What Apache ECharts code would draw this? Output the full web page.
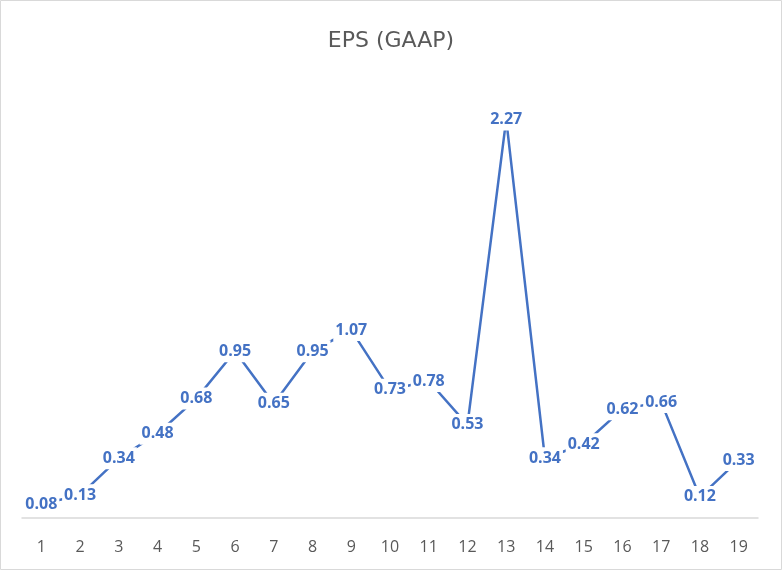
<!DOCTYPE html>
<html><head><meta charset="utf-8">
<script src="https://cdn.jsdelivr.net/npm/echarts@6/dist/echarts.min.js"></script>
<style>html,body{margin:0;padding:0;background:#fff}#c{width:782px;height:570px}</style>
</head><body><div id="c"></div>
<script>
const categories = ['1','2','3','4','5','6','7','8','9','10','11','12','13','14','15','16','17','18','19'];
const eps = [0.08,0.13,0.34,0.48,0.68,0.95,0.65,0.95,1.07,0.73,0.78,0.53,2.27,0.34,0.42,0.62,0.66,0.12,0.33];
const chart = echarts.init(document.getElementById('c'));
chart.setOption({
  animation:false,
  title:{text:'EPS (GAAP)',left:'center',top:25,textStyle:{color:'#595959',fontSize:22,fontWeight:'normal',fontFamily:'DejaVu Sans'}},
  graphic:[{type:'rect',shape:{x:0.5,y:0.5,width:781,height:569},style:{fill:'none',stroke:'#d9d9d9',lineWidth:1}}],
  grid:{left:22,right:24,top:79,bottom:52},
  xAxis:{type:'category',data:categories,boundaryGap:true,
    axisLine:{lineStyle:{color:'#d9d9d9',width:1.5}},axisTick:{show:false},
    axisLabel:{color:'#595959',fontSize:16,margin:21,fontFamily:'Open Sans'}},
  yAxis:{type:'value',min:0,max:2.5,show:false,splitLine:{show:false}},
  series:[{type:'line',data:eps,symbol:'circle',symbolSize:2,showSymbol:true,
    itemStyle:{color:'#4472C4'},
    lineStyle:{color:'#4472C4',width:2.5},
    label:{show:true,position:'inside',color:'#4472C4',fontWeight:'bold',fontSize:16,fontFamily:'Open Sans',
      backgroundColor:'#fff',padding:[3,2,3,2],formatter:function(p){return Number(p.value).toFixed(2);}},
    labelLayout:{hideOverlap:false}
  }]
});
</script></body></html>
